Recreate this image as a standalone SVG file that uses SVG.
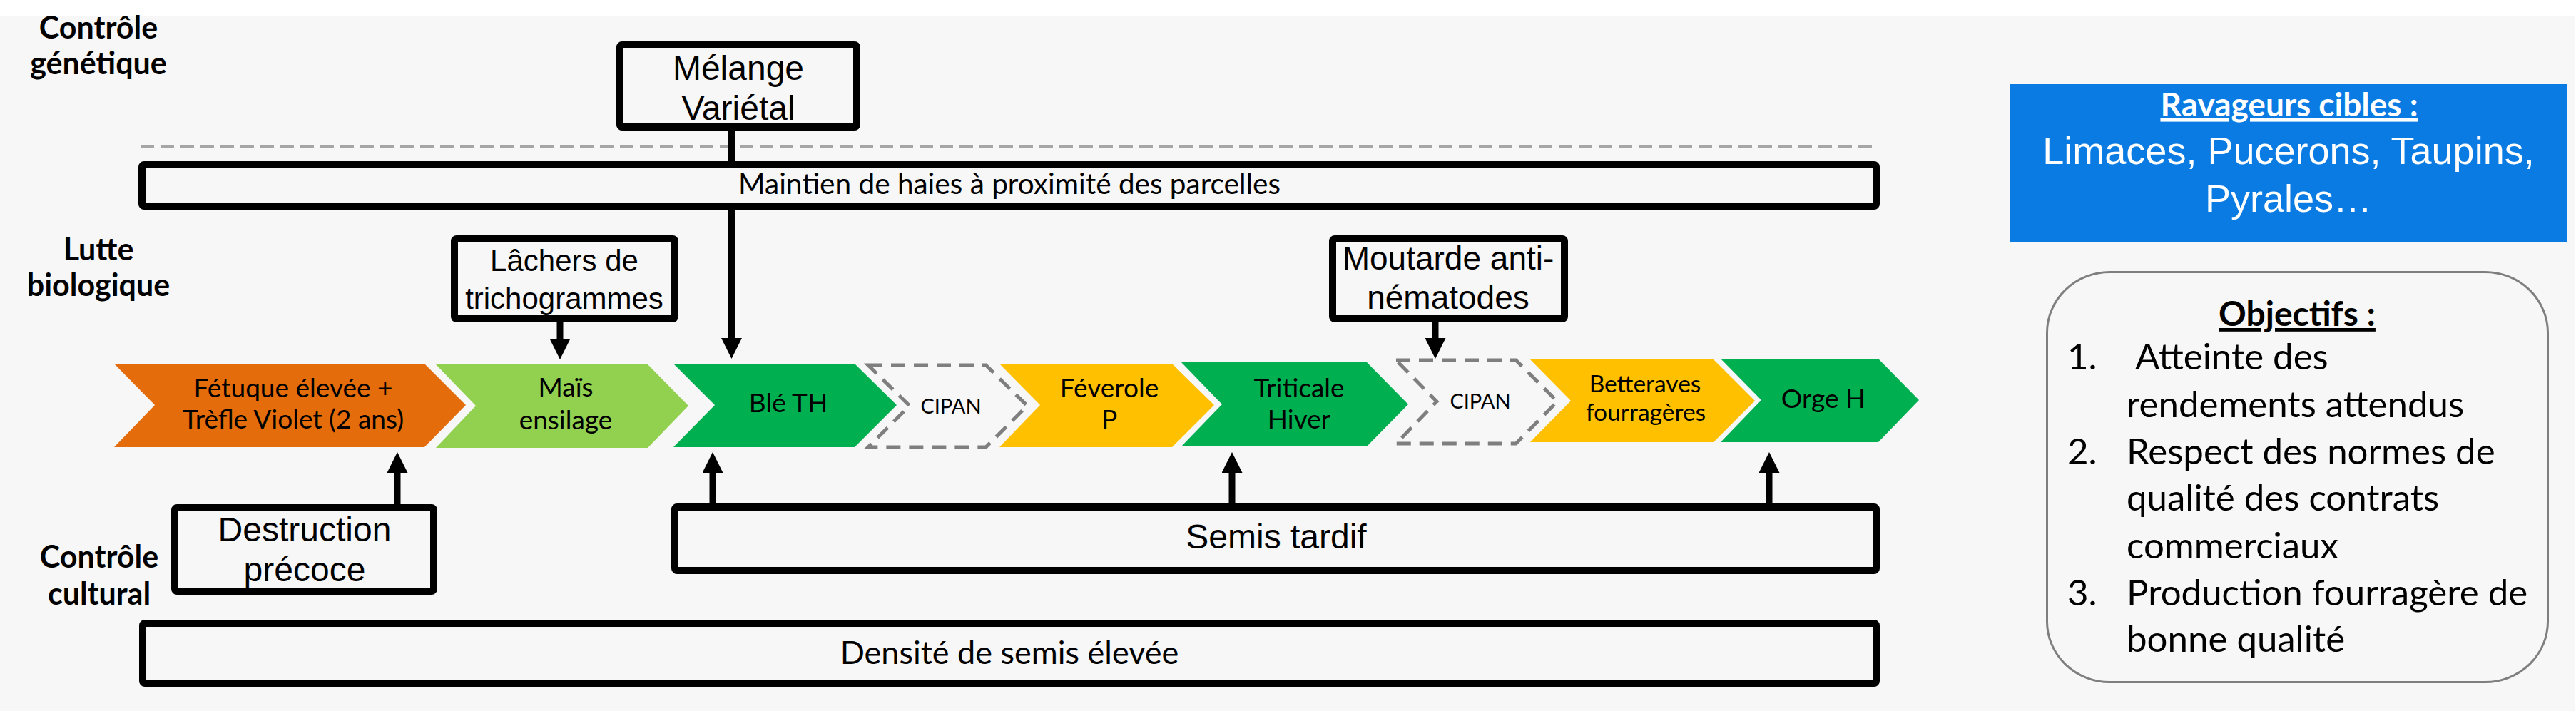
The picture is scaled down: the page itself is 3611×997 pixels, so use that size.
<svg xmlns="http://www.w3.org/2000/svg" width="3611" height="997" viewBox="0 0 3611 997">
<defs>
<style>
.bg{fill:#F7F7F7}
.box{fill:#F7F7F7;stroke:#000;stroke-width:10;stroke-linejoin:round}
.lbl{font-family:Lato,"Liberation Sans",sans-serif;font-weight:bold;font-size:43px;fill:#000;text-anchor:middle}
.ar{font-family:"Liberation Sans",Arial,sans-serif;fill:#000;text-anchor:middle}
.cal{font-family:Lato,"Liberation Sans",sans-serif;fill:#000;text-anchor:middle}
.chev{font-family:Lato,"Liberation Sans",sans-serif;fill:#000;text-anchor:middle;font-size:37px}
.conn{stroke:#000;stroke-width:9;fill:none}
.dash{fill:#F7F7F7;stroke:#7F7F7F;stroke-width:5;stroke-dasharray:20 12}
.sep{stroke:#A6A6A6;stroke-width:4;stroke-dasharray:19 9}
</style>
<marker id="ah" viewBox="0 0 29 29" refX="4" refY="14.5" markerWidth="29" markerHeight="29" markerUnits="userSpaceOnUse" orient="auto"><path d="M0,0 L29,14.5 L0,29 Z" fill="#000"/></marker>
</defs>
<rect x="0" y="0" width="3611" height="997" fill="#FFFFFF"/>
<rect class="bg" x="0" y="22" width="3609" height="975"/>

<g id="labels">
<text class="lbl"><tspan x="138" y="54">Contrôle</tspan><tspan x="138" y="104">génétique</tspan></text>
<text class="lbl"><tspan x="138" y="365">Lutte</tspan><tspan x="138" y="415">biologique</tspan></text>
<text class="lbl"><tspan x="139" y="796">Contrôle</tspan><tspan x="139" y="848">cultural</tspan></text>
</g>

<line class="sep" x1="197" y1="205" x2="2630" y2="205"/>

<g id="connectors">
<path class="conn" d="M1025.5,183 V478" marker-end="url(#ah)"/>
<path class="conn" d="M785,452 V479" marker-end="url(#ah)"/>
<path class="conn" d="M2012,452 V478" marker-end="url(#ah)"/>
<path class="conn" d="M557,707 V659" marker-end="url(#ah)"/>
<path class="conn" d="M999,706 V659" marker-end="url(#ah)"/>
<path class="conn" d="M1727,706 V659" marker-end="url(#ah)"/>
<path class="conn" d="M2480,706 V659" marker-end="url(#ah)"/>
</g>

<g id="melange">
<rect class="box" x="869" y="63" width="332" height="115" rx="3"/>
<text class="ar" font-size="48"><tspan x="1035" y="112">Mélange</tspan><tspan x="1035" y="168">Variétal</tspan></text>
</g>

<g id="haies">
<rect class="box" x="199" y="231" width="2431" height="58" rx="3"/>
<text class="cal" font-size="40.5" x="1415" y="272">Maintien de haies à proximité des parcelles</text>
</g>

<g id="lachers">
<rect class="box" x="637" y="335" width="309" height="112" rx="3"/>
<text class="ar" font-size="42"><tspan x="791" y="380">Lâchers de</tspan><tspan x="791" y="433">trichogrammes</tspan></text>
</g>

<g id="moutarde">
<rect class="box" x="1868" y="335" width="325" height="112" rx="3"/>
<text class="ar" font-size="46"><tspan x="2030" y="378">Moutarde anti-</tspan><tspan x="2030" y="433">nématodes</tspan></text>
</g>

<g id="fetuque">
<polygon points="160,510 595,510 653,568 595,627 160,627 217,568" fill="#E46C0A"/>
<text class="chev"><tspan x="411" y="557">Fétuque élevée +</tspan><tspan x="411" y="601">Trèfle Violet (2 ans)</tspan></text>
</g>

<g id="mais">
<polygon points="611,511 908,511 965,569 908,628 611,628 667,569" fill="#92D050"/>
<text class="chev"><tspan x="793" y="556">Maïs</tspan><tspan x="793" y="602">ensilage</tspan></text>
</g>

<g id="ble">
<polygon points="944,510 1198,510 1257,568 1198,627 944,627 1002,568" fill="#00B050"/>
<text class="chev" x="1105" y="578">Blé TH</text>
</g>

<g id="cipan1">
<polygon class="dash" points="1217,512 1382,512 1440,569 1382,627 1217,627 1275,569"/>
<text class="cal" font-size="29" x="1333" y="580">CIPAN</text>
</g>

<g id="feverole">
<polygon points="1401,510 1643,510 1702,568 1643,627 1401,627 1458,568" fill="#FFC000"/>
<text class="chev"><tspan x="1555" y="557">Féverole</tspan><tspan x="1555" y="601">P</tspan></text>
</g>

<g id="triticale">
<polygon points="1656,508 1916,508 1974,567 1916,626 1656,626 1713,567" fill="#00B050"/>
<text class="chev"><tspan x="1821" y="557">Triticale</tspan><tspan x="1821" y="601">Hiver</tspan></text>
</g>

<g id="cipan2">
<polygon class="dash" points="1957,505 2125,505 2183,563 2125,622 1957,622 2014,563"/>
<text class="cal" font-size="29" x="2075" y="573">CIPAN</text>
</g>

<g id="betteraves">
<polygon points="2145,504 2402,504 2460,562 2402,620 2145,620 2202,562" fill="#FFC000"/>
<text class="cal" font-size="33.5"><tspan x="2306" y="550">Betteraves</tspan><tspan x="2307" y="590">fourragères</tspan></text>
</g>

<g id="orge">
<polygon points="2412,503 2633,503 2690,561 2633,620 2412,620 2469,561" fill="#00B050"/>
<text class="chev" x="2556" y="572">Orge H</text>
</g>

<g id="destruction">
<rect class="box" x="245" y="712" width="363" height="117" rx="3"/>
<text class="ar" font-size="48"><tspan x="427" y="759">Destruction</tspan><tspan x="427" y="815">précoce</tspan></text>
</g>

<g id="semis">
<rect class="box" x="946" y="711" width="1684" height="89" rx="3"/>
<text class="ar" font-size="48" x="1789" y="769">Semis tardif</text>
</g>

<g id="densite">
<rect class="box" x="200" y="874" width="2430" height="84" rx="3"/>
<text class="cal" font-size="45" x="1415" y="931">Densité de semis élevée</text>
</g>

<g id="ravageurs">
<rect x="2818" y="118" width="780" height="221" fill="#0A7BE2"/>
<text class="cal" font-size="46" font-weight="bold" style="fill:#FFFFFF" text-decoration="underline" x="3209" y="163">Ravageurs cibles :</text>
<text class="ar" font-size="54" style="fill:#FFFFFF"><tspan x="3208" y="230">Limaces, Pucerons, Taupins,</tspan><tspan x="3208" y="297">Pyrales…</tspan></text>
</g>

<g id="objectifs">
<rect x="2869.5" y="381.5" width="702" height="575" rx="88" ry="85" fill="#F7F7F7" stroke="#7F7F7F" stroke-width="3"/>
<text class="cal" font-size="48" font-weight="bold" text-decoration="underline" x="3220" y="457">Objectifs :</text>
<g font-family="Lato, 'Liberation Sans', sans-serif" font-size="51" fill="#000">
<text x="2898" y="518">1.</text>
<text x="2993" y="518">Atteinte des</text>
<text x="2981" y="585">rendements attendus</text>
<text x="2898" y="651">2.</text>
<text x="2981" y="651">Respect des normes de</text>
<text x="2981" y="716">qualité des contrats</text>
<text x="2981" y="783">commerciaux</text>
<text x="2898" y="849">3.</text>
<text x="2981" y="849">Production fourragère de</text>
<text x="2981" y="914">bonne qualité</text>
</g>
</g>
</svg>
